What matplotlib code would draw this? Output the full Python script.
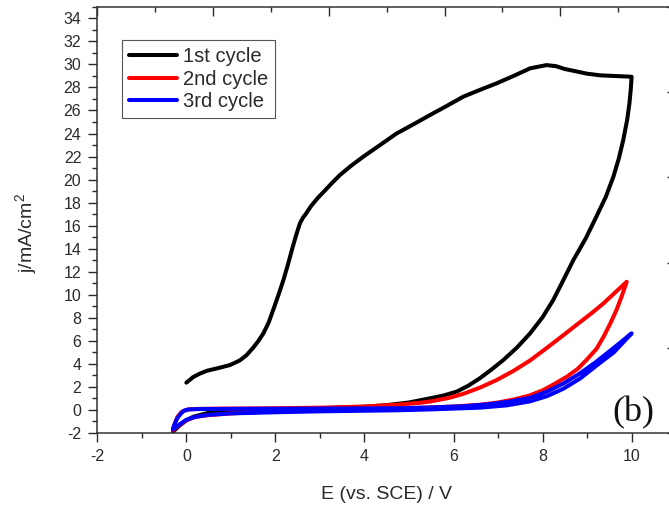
import numpy as np
import matplotlib
matplotlib.use("Agg")
import matplotlib.pyplot as plt
from matplotlib.ticker import MultipleLocator, NullFormatter

# --- data (E in V vs SCE, j in mA/cm2) ---
# 1st cycle: forward from 0 V up to 10 V, then back down to -0.3 V
e1 = [0.00, 0.08, 0.15, 0.30, 0.46, 0.70, 0.98, 1.20, 1.35, 1.50, 1.62, 1.73,
      1.85, 1.95, 2.07, 2.18, 2.28, 2.37, 2.46, 2.55, 2.62, 2.68, 2.80, 2.95,
      3.10, 3.27, 3.45, 3.70, 3.97, 4.35, 4.72, 5.10, 5.47, 5.85, 6.22, 6.60,
      6.97, 7.35, 7.72, 8.09, 8.30, 8.50, 8.75, 8.99, 9.30, 9.59, 10.00,
      9.98, 9.95, 9.90, 9.81, 9.71, 9.59, 9.42, 9.21, 8.97, 8.69, 8.47, 8.24,
      8.00, 7.72, 7.42, 7.12, 6.85, 6.59, 6.33, 6.07, 5.77, 5.47, 5.00, 4.50,
      4.00, 3.00, 2.00, 1.00, 0.50, 0.16, 0.00, -0.15, -0.30]
j1 = [2.37, 2.62, 2.85, 3.15, 3.40, 3.62, 3.90, 4.30, 4.75, 5.40, 6.00, 6.65,
      7.60, 8.68, 10.0, 11.28, 12.6, 13.89, 15.1, 16.2, 16.7, 17.0, 17.7, 18.4,
      19.0, 19.7, 20.4, 21.2, 21.98, 23.0, 24.0, 24.8, 25.6, 26.4, 27.2, 27.8,
      28.36, 29.0, 29.66, 29.94, 29.85, 29.6, 29.4, 29.2, 29.05, 29.0, 28.93,
      27.8, 26.6, 25.2, 23.4, 21.8, 20.25, 18.5, 16.8, 14.9, 13.0, 11.3, 9.55,
      8.05, 6.65, 5.40, 4.34, 3.50, 2.75, 2.10, 1.59, 1.25, 1.01, 0.65, 0.42,
      0.28, 0.14, 0.06, -0.08, -0.25, -0.58, -0.90, -1.35, -1.90]

# 2nd cycle
e2 = [-0.30, -0.25, -0.20, -0.10, 0.05, 0.30, 1.00, 2.00, 3.00, 4.00, 4.70,
      5.20, 5.50, 5.90, 6.22, 6.60, 6.97, 7.35, 7.72, 8.10, 8.47, 8.80, 9.10,
      9.37, 9.63, 9.89,
      9.78, 9.66, 9.52, 9.37, 9.21, 9.00, 8.80, 8.55, 8.24, 8.00, 7.70, 7.40,
      7.00, 6.59, 6.00, 5.00, 4.00, 3.00, 2.00, 1.00, 0.50, 0.20, 0.00, -0.15,
      -0.30]
j2 = [-1.75, -1.10, -0.60, -0.15, 0.05, 0.10, 0.12, 0.15, 0.20, 0.30, 0.45,
      0.60, 0.75, 1.05, 1.40, 1.95, 2.60, 3.40, 4.30, 5.40, 6.50, 7.50, 8.40,
      9.26, 10.2, 11.13,
      9.90, 8.68, 7.50, 6.36, 5.30, 4.40, 3.60, 2.90, 2.20, 1.70, 1.25, 0.95,
      0.65, 0.45, 0.30, 0.15, 0.05, 0.00, -0.10, -0.30, -0.45, -0.60, -0.90, -1.30,
      -1.75]

# 3rd cycle
e3 = [-0.30, -0.25, -0.20, -0.12, -0.05, 0.05, 0.30, 1.00, 3.00, 4.72, 5.50,
      6.20, 6.80, 7.30, 7.72, 8.10, 8.47, 8.85, 9.21, 9.60, 10.00,
      9.60, 9.21, 8.85, 8.47, 8.10, 7.72, 7.20, 6.59, 5.50, 4.72, 3.00, 2.00,
      1.00, 0.50, 0.20, 0.00, -0.15, -0.30]
j3 = [-1.60, -1.10, -0.70, -0.30, -0.05, 0.05, 0.08, 0.10, 0.12, 0.15, 0.22,
      0.32, 0.50, 0.75, 1.05, 1.60, 2.30, 3.20, 4.20, 5.40, 6.65,
      5.00, 3.85, 2.75, 1.85, 1.20, 0.75, 0.40, 0.20, 0.05, -0.03, -0.12, -0.20,
      -0.30, -0.42, -0.60, -0.85, -1.25, -1.70]

series = [("1st cycle", e1, j1, "#000000"),
          ("2nd cycle", e2, j2, "#ff0000"),
          ("3rd cycle", e3, j3, "#0000ff")]

plt.rcParams['font.family'] = ['Liberation Sans', 'DejaVu Sans']
plt.rcParams['mathtext.default'] = 'regular'
plt.rcParams['axes.unicode_minus'] = False

fig = plt.figure(figsize=(6.69, 5.09), dpi=100)
ax = fig.add_axes([0.1454, 0.1493, 0.8653, 0.8373])

for label, e, j, c in series:
    ax.plot(e, j, color=c, lw=2.9, label=label,
            solid_capstyle='round', solid_joinstyle='round')

ax.set_xlim(-2, 11)
ax.set_ylim(-2, 35)
ax.set_xticks(np.arange(-2, 11, 2))
ax.set_yticks(np.arange(-2, 35, 2))
ax.xaxis.set_minor_locator(MultipleLocator(1))
ax.yaxis.set_minor_locator(MultipleLocator(1))

tick_col = '#2a2a2a'
ax.tick_params(which='major', direction='out', length=6.5, width=1.0,
               labelsize=11.5, pad=5, colors=tick_col)
ax.tick_params(which='minor', direction='out', length=3.6, width=1.0, colors=tick_col)
ax.tick_params(top=False, right=False)

for s in ax.spines.values():
    s.set_color('#333333')
    s.set_linewidth(1.1)

ax.set_xlabel('E (vs. SCE) / V', fontsize=14, color=tick_col)
ax.set_ylabel('j/mA/cm$^2$', fontsize=14, color=tick_col)
ax.xaxis.set_label_coords(0.5, -0.125)
ax.yaxis.set_label_coords(-0.1, 0.47)

# secondary layer ticks (top and right), no labels
axt = ax.twiny()
axt.set_xlim(0, 5)
axt.xaxis.set_major_locator(MultipleLocator(1))
axt.xaxis.set_minor_locator(MultipleLocator(0.5))
axt.xaxis.set_major_formatter(NullFormatter())
axt.tick_params(which='major', direction='in', length=6.5, width=1.0, colors=tick_col)
axt.tick_params(which='minor', direction='in', length=3.6, width=1.0, colors=tick_col)
axr = ax.twinx()
axr.set_ylim(0, 5)
axr.yaxis.set_major_locator(MultipleLocator(1))
axr.yaxis.set_major_formatter(NullFormatter())
axr.tick_params(which='major', direction='in', length=6.5, width=1.0, colors=tick_col)
for a in (axt, axr):
    for s in a.spines.values():
        s.set_visible(False)

leg = ax.legend(loc='upper left', bbox_to_anchor=(0.0427, 0.922), borderaxespad=0,
                fontsize=14.5, handlelength=2.38, handletextpad=0.3, labelspacing=0.18,
                borderpad=0.35, fancybox=False, framealpha=1, edgecolor='#555555')
leg.get_frame().set_linewidth(0.8)
for t in leg.get_texts():
    t.set_color(tick_col)

ax.text(10.03, -0.2, '(b)', ha='center', va='center', fontsize=26,
        family=['Liberation Serif', 'DejaVu Serif'], color='#111111')

fig.savefig('out.png', dpi=100)
